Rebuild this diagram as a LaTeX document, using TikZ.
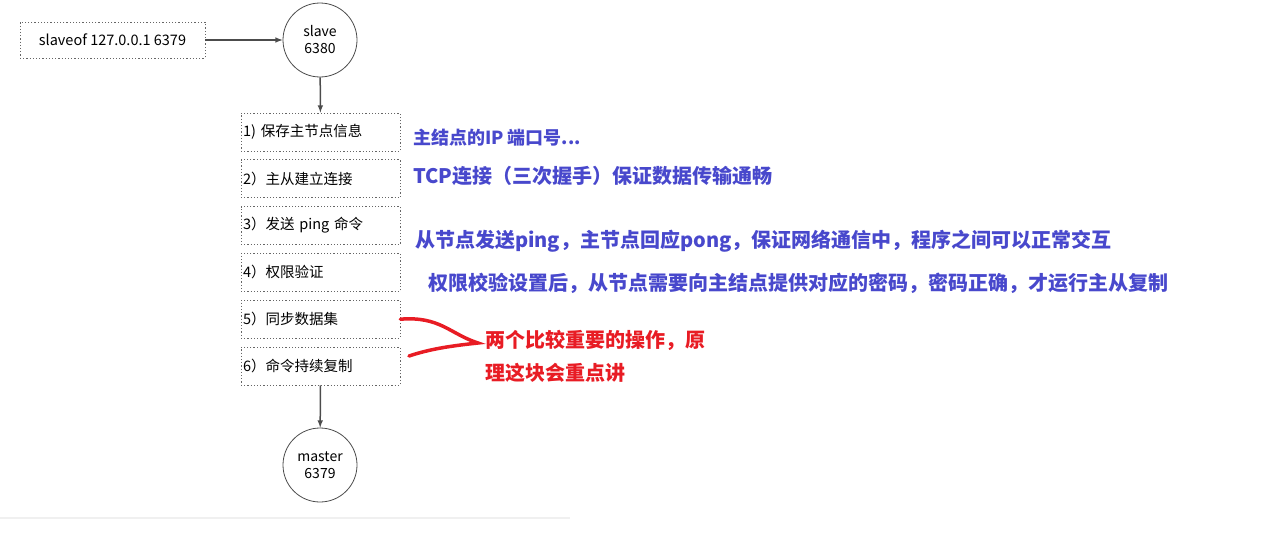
\documentclass[tikz,border=0pt]{standalone}
\usepackage{fontspec}
\setmainfont{Noto Sans CJK SC}
\usetikzlibrary{arrows,arrows.meta,positioning}
\definecolor{noteblue}{RGB}{72,72,204}
\definecolor{notered}{RGB}{232,28,36}
\tikzset{
  server/.style={circle,draw=black!70,thick,minimum size=74pt,inner sep=0pt,align=center,font=\fontsize{14}{17}\selectfont},
  stepbox/.style={draw=black!60,dash pattern=on 1.2pt off 2pt,thick,inner xsep=2pt,text width=155pt,minimum height=38pt,align=left,font=\fontsize{14.5}{17}\selectfont},
  note/.style={anchor=west,inner sep=0pt,font=\fontsize{20}{24}\selectfont\bfseries},
  flow/.style={-latex,line width=1.5pt,draw=black!70}
}

\begin{document}
\begin{tikzpicture}[x=1pt,y=-1pt]
        \useasboundingbox (0,0) rectangle (1287,538);

        % Servers
        \node[draw=black!60,dash pattern=on 1.2pt off 2pt,thick,minimum width=185pt,minimum height=36pt,font=\fontsize{14.5}{17}\selectfont] (slaveof) at (112.5,40) {slaveof 127.0.0.1 6379};
        \node[server] (slave) at (320,40) {slave\\6380};
        \node[server] (master) at (320,465) {master\\6379};

        % Steps
        \node[stepbox] (step1) at (320.5,132) {1) 保存主节点信息};
        \node[stepbox, below=8pt of step1] (step2) {2）主从建立连接};
        \node[stepbox, below=8pt of step2] (step3) {3）发送 ping 命令};
        \node[stepbox, below=8pt of step3] (step4) {4）权限验证};
        \node[stepbox, below=8pt of step4] (step5) {5）同步数据集};
        \node[stepbox, below=8pt of step5] (step6) {6）命令持续复制};

        % Arrows
        \draw[flow] (slaveof) -- (slave);
        \draw[flow] (slave) -- (step1);
        \draw[flow] (step6) -- (master);

        % Notes
        \node[note,text=noteblue,font=\fontsize{18}{22}\selectfont\bfseries] (note1) at (413,138) {主结点的IP 端口号...};
        \node[note,text=noteblue] (note2) at (413,176) {TCP连接（三次握手）保证数据传输通畅};
        \node[note,text=noteblue] (note3) at (415,241) {从节点发送ping，主节点回应pong，保证网络通信中，程序之间可以正常交互};
        \node[note,text=noteblue] (note4) at (428,283) {权限校验设置后，从节点需要向主结点提供对应的密码，密码正确，才运行主从复制};
        \node[note,text=notered] (note5) at (485,340) {两个比较重要的操作，原};
        \node[note,text=notered] (note6) at (485,373) {理这块会重点讲};

        % Brace
        \draw[notered,line width=3.5pt,line cap=round] (step5.east) .. controls (440,316) and (450,334) .. (478,343)
            .. controls (450,346) and (430,349) .. (409,356);

        % Bottom line
        \draw[black!6,line width=2pt] (0,518) -- (570,518);
\end{tikzpicture}
\end{document}
